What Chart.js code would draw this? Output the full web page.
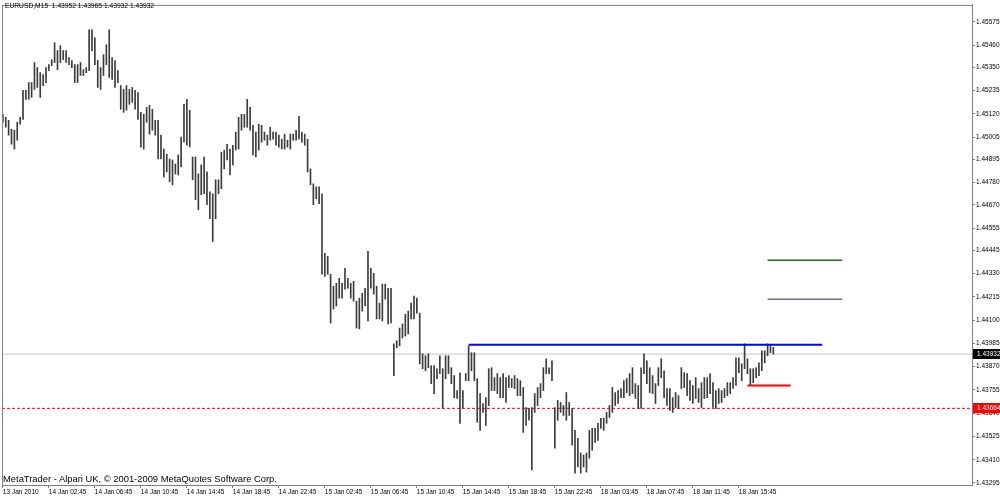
<!DOCTYPE html>
<html>
<head>
<meta charset="utf-8">
<script src="https://cdn.jsdelivr.net/npm/chart.js@4.4.1/dist/chart.umd.min.js"></script>
<style>
  html, body { margin: 0; padding: 0; background: #fff; }
  #wrap { position: relative; width: 1000px; height: 497px; }
  canvas { display: block; }
  .txt { position: absolute; font-family: "Liberation Sans", Arial, sans-serif; color: #000; white-space: nowrap; }
  #title { left: 5px; top: 2px; font-size: 6.7px; }
  #copy { left: 3px; top: 473px; font-size: 9.4px; }
</style>
</head>
<body>
<div id="wrap">
  <canvas id="chart" width="1000" height="497"></canvas>
  <div class="txt" id="title">EURUSD,M15&nbsp;&nbsp;1.43952 1.43965 1.43932 1.43932</div>
  <div class="txt" id="copy">MetaTrader - Alpari UK, © 2001-2009 MetaQuotes Software Corp.</div>
</div>
<script>
// ===== DATA =====
// M15 bars, high / low of each bar (bar index 0 = 13 Jan 2010 22:45)
const barHigh = [
  1.45118,1.45103,1.45088,1.45044,1.45039,1.45079,1.45103,1.45236,1.45236,1.45275,
  1.45275,1.45374,1.45349,1.45324,1.45314,1.45349,1.45364,1.45388,1.45472,1.45433,
  1.45457,1.45433,1.45433,1.45398,1.45384,1.45364,1.45364,1.45374,1.45339,1.45349,
  1.45536,1.45536,1.45496,1.45384,1.45349,1.45413,1.45462,1.45536,1.45398,1.45384,
  1.45334,1.45260,1.45241,1.45260,1.45241,1.45251,1.45236,1.45226,1.45128,1.45118,
  1.45152,1.45162,1.45143,1.45088,1.45088,1.45015,1.44946,1.44921,1.44897,1.44892,
  1.44872,1.44917,1.45005,1.45167,1.45192,1.45138,1.44907,1.44907,1.44823,1.44868,
  1.44907,1.44833,1.44735,1.44725,1.44794,1.44794,1.44931,1.44941,1.44970,1.44946,
  1.44965,1.45030,1.45103,1.45118,1.45118,1.45192,1.45152,1.45064,1.45030,1.45069,
  1.45064,1.45030,1.45015,1.45054,1.45030,1.45030,1.45015,1.44995,1.45020,1.44990,
  1.45020,1.45020,1.45039,1.45108,1.45030,1.45020,1.44995,1.44848,1.44774,1.44759,
  1.44759,1.44725,1.44430,1.44415,1.44327,1.44268,1.44282,1.44307,1.44282,1.44356,
  1.44307,1.44282,1.44292,1.44194,1.44209,1.44233,1.44258,1.44440,1.44356,1.44332,
  1.44268,1.44184,1.44278,1.44278,1.44258,1.44258,1.43983,1.43998,1.44061,1.44081,
  1.44130,1.44145,1.44184,1.44219,1.44209,1.44135,1.43934,1.43924,1.43934,1.43875,
  1.43875,1.43860,1.43924,1.43860,1.43924,1.43924,1.43865,1.43826,1.43752,1.43840,
  1.43752,1.43836,1.43973,1.43939,1.43939,1.43811,1.43737,1.43688,1.43717,1.43860,
  1.43865,1.43816,1.43836,1.43816,1.43836,1.43816,1.43826,1.43811,1.43826,1.43811,
  1.43801,1.43767,1.43668,1.43664,1.43668,1.43737,1.43767,1.43786,1.43865,1.43909,
  1.43865,1.43899,1.43668,1.43703,1.43693,1.43678,1.43742,1.43693,1.43664,1.43555,
  1.43516,1.43443,1.43433,1.43443,1.43555,1.43565,1.43565,1.43590,1.43615,1.43615,
  1.43644,1.43678,1.43767,1.43742,1.43752,1.43762,1.43801,1.43811,1.43836,1.43865,
  1.43786,1.43777,1.43865,1.43934,1.43899,1.43865,1.43826,1.43786,1.43865,1.43909,
  1.43850,1.43762,1.43762,1.43717,1.43742,1.43727,1.43865,1.43840,1.43836,1.43801,
  1.43777,1.43816,1.43762,1.43791,1.43816,1.43816,1.43836,1.43791,1.43752,1.43762,
  1.43752,1.43762,1.43791,1.43791,1.43816,1.43914,1.43914,1.43884,1.43983,1.43909,
  1.43860,1.43860,1.43865,1.43889,1.43949,1.43949,1.43983,1.43973,1.43965
];
const barLow = [
  1.45079,1.45054,1.45015,1.44970,1.44946,1.44990,1.45069,1.45093,1.45192,1.45192,
  1.45202,1.45241,1.45251,1.45202,1.45260,1.45275,1.45334,1.45359,1.45374,1.45339,
  1.45374,1.45388,1.45374,1.45364,1.45349,1.45275,1.45275,1.45310,1.45310,1.45324,
  1.45334,1.45433,1.45364,1.45251,1.45241,1.45310,1.45364,1.45300,1.45290,1.45251,
  1.45275,1.45143,1.45128,1.45138,1.45167,1.45177,1.45143,1.45093,1.44956,1.44946,
  1.45079,1.45020,1.45039,1.45015,1.44897,1.44897,1.44808,1.44833,1.44784,1.44769,
  1.44823,1.44818,1.44858,1.44980,1.44965,1.44956,1.44794,1.44696,1.44646,1.44720,
  1.44725,1.44671,1.44602,1.44489,1.44602,1.44725,1.44750,1.44848,1.44892,1.44818,
  1.44868,1.44941,1.44946,1.45039,1.45054,1.45054,1.45039,1.44917,1.44907,1.44941,
  1.44980,1.44990,1.44965,1.44990,1.44995,1.44965,1.44956,1.44946,1.44946,1.44956,
  1.44946,1.44990,1.44990,1.44995,1.44980,1.44965,1.44833,1.44769,1.44671,1.44700,
  1.44676,1.44327,1.44317,1.44327,1.44086,1.44155,1.44170,1.44209,1.44209,1.44253,
  1.44258,1.44209,1.44194,1.44061,1.44057,1.44145,1.44170,1.44096,1.44258,1.44229,
  1.44106,1.44106,1.44096,1.44204,1.44081,1.44086,1.43826,1.43963,1.43973,1.44012,
  1.44022,1.44032,1.44106,1.44106,1.44135,1.43884,1.43860,1.43850,1.43865,1.43786,
  1.43737,1.43811,1.43836,1.43664,1.43811,1.43836,1.43786,1.43717,1.43713,1.43590,
  1.43664,1.43801,1.43801,1.43850,1.43801,1.43595,1.43555,1.43644,1.43580,1.43678,
  1.43752,1.43752,1.43737,1.43717,1.43717,1.43693,1.43767,1.43767,1.43762,1.43727,
  1.43727,1.43545,1.43580,1.43605,1.43359,1.43644,1.43678,1.43717,1.43752,1.43836,
  1.43836,1.43801,1.43467,1.43605,1.43644,1.43629,1.43605,1.43629,1.43482,1.43344,
  1.43374,1.43344,1.43374,1.43349,1.43418,1.43457,1.43496,1.43506,1.43565,1.43555,
  1.43590,1.43619,1.43644,1.43678,1.43688,1.43717,1.43717,1.43742,1.43727,1.43737,
  1.43713,1.43664,1.43664,1.43836,1.43786,1.43742,1.43737,1.43688,1.43777,1.43816,
  1.43717,1.43678,1.43654,1.43644,1.43668,1.43664,1.43762,1.43767,1.43727,1.43703,
  1.43688,1.43713,1.43693,1.43668,1.43713,1.43717,1.43737,1.43668,1.43664,1.43688,
  1.43693,1.43717,1.43727,1.43737,1.43762,1.43777,1.43840,1.43801,1.43860,1.43836,
  1.43777,1.43791,1.43816,1.43826,1.43850,1.43889,1.43924,1.43939,1.43932
];

// time axis: one label every 16 bars
const timeTickIdx = [0,16,32,48,64,80,96,112,128,144,160,176,192,208,224,240,256];
const timeLabels = ['13 Jan 2010','14 Jan 02:45','14 Jan 06:45','14 Jan 10:45','14 Jan 14:45',
  '14 Jan 18:45','14 Jan 22:45','15 Jan 02:45','15 Jan 06:45','15 Jan 10:45','15 Jan 14:45',
  '15 Jan 18:45','15 Jan 22:45','18 Jan 03:45','18 Jan 07:45','18 Jan 11:45','18 Jan 15:45'];

// price axis labels
const priceTicks = [1.45575,1.45460,1.45350,1.45235,1.45120,1.45005,1.44895,1.44780,1.44670,
  1.44555,1.44445,1.44330,1.44215,1.44100,1.43985,1.43870,1.43755,1.43640,1.43525,1.43410,1.43295];

// levels drawn on the chart
const bidPrice = 1.43932;
const alertPrice = 1.43664;
const blueLevel = 1.43978, blueFrom = 162, blueTo = 285;
const greenLevel = 1.44396, purpleLevel = 1.44204, tpFrom = 266, tpTo = 292;
const redLevel = 1.43777, redFrom = 259, redTo = 274;

// ===== CHART =====
const X_MIN = -0.3, X_MAX = 337.1;
const Y_MIN = 1.43285, Y_MAX = 1.45659;
const FONT = { family: '"Liberation Sans", Arial, sans-serif', size: 6.5 };
const AXIS = '#808080';

const level = (y, a, b) => [{ x: a, y }, { x: b, y }];

const frame = {
  id: 'frame',
  afterDatasetsDraw(chart) {
    const { ctx, chartArea: a } = chart;
    ctx.save();
    ctx.strokeStyle = AXIS;
    ctx.lineWidth = 1;
    ctx.strokeRect(a.left + 0.5, a.top + 0.5, a.right - a.left, a.bottom - a.top);
    ctx.restore();
  },
  afterDraw(chart) {
    const { ctx, chartArea: a } = chart;
    const ys = chart.scales.y;
    const box = (price, bg, text) => {
      const py = Math.round(ys.getPixelForValue(price));
      ctx.fillStyle = bg;
      ctx.fillRect(a.right + 1, py - 5, 1000 - a.right, 10);
      ctx.fillStyle = '#fff';
      ctx.font = '6.5px "Liberation Sans", Arial, sans-serif';
      ctx.textBaseline = 'middle';
      ctx.textAlign = 'left';
      ctx.fillText(text, a.right + 5, py);
    };
    ctx.save();
    box(bidPrice, '#000', bidPrice.toFixed(5));
    box(alertPrice, '#ff0000', alertPrice.toFixed(5));
    ctx.restore();
  }
};

new Chart(document.getElementById('chart'), {
  data: {
    datasets: [
      {
        type: 'line', order: 3,
        data: level(bidPrice, X_MIN, X_MAX),
        borderColor: '#c8c8c8', borderWidth: 1, pointRadius: 0
      },
      {
        type: 'line', order: 3,
        data: level(alertPrice, X_MIN, X_MAX),
        borderColor: '#ff0000', borderWidth: 1, borderDash: [3, 2], pointRadius: 0
      },
      {
        type: 'bar', order: 2,
        data: barHigh.map((h, i) => ({ x: i, y: [barLow[i], h] })),
        backgroundColor: '#3c3c3c', borderWidth: 0, barThickness: 1, grouped: false
      },
      {
        type: 'line', order: 1,
        data: level(blueLevel, blueFrom, blueTo),
        borderColor: '#0000ff', borderWidth: 2, pointRadius: 0
      },
      {
        type: 'line', order: 1,
        data: level(greenLevel, tpFrom, tpTo),
        borderColor: '#1f6f1f', borderWidth: 1.5, pointRadius: 0
      },
      {
        type: 'line', order: 1,
        data: level(purpleLevel, tpFrom, tpTo),
        borderColor: '#6c6c90', borderWidth: 1.5, pointRadius: 0
      },
      {
        type: 'line', order: 1,
        data: level(redLevel, redFrom, redTo),
        borderColor: '#ff0000', borderWidth: 2, pointRadius: 0
      }
    ]
  },
  options: {
    responsive: false,
    animation: false,
    devicePixelRatio: 1,
    layout: { padding: { left: 2, top: 2, right: 0, bottom: 0 } },
    plugins: { legend: { display: false }, tooltip: { enabled: false } },
    scales: {
      x: {
        type: 'linear', position: 'bottom', min: X_MIN, max: X_MAX, offset: false,
        afterBuildTicks: s => { s.ticks = timeTickIdx.map(v => ({ value: v })); },
        afterFit: s => { s.height = 12; },
        ticks: {
          callback: v => timeLabels[timeTickIdx.indexOf(v)],
          font: FONT, color: '#000', align: 'start', maxRotation: 0,
          autoSkip: false, padding: 0
        },
        grid: { drawOnChartArea: false, offset: false, tickLength: 3, color: AXIS },
        border: { color: AXIS }
      },
      y: {
        type: 'linear', position: 'right', min: Y_MIN, max: Y_MAX,
        afterBuildTicks: s => { s.ticks = priceTicks.map(v => ({ value: v })); },
        afterFit: s => { s.width = 28; },
        ticks: {
          callback: v => v.toFixed(5),
          font: FONT, color: '#000', padding: 1
        },
        grid: { drawOnChartArea: false, tickLength: 3, color: AXIS },
        border: { color: AXIS }
      }
    }
  },
  plugins: [frame]
});
</script>
</body>
</html>
